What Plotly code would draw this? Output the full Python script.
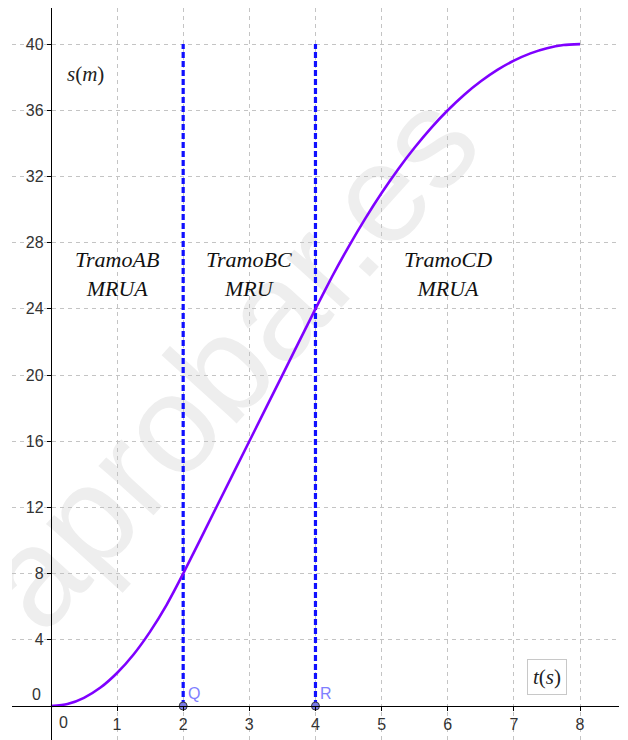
import plotly.graph_objects as go

# ---- data ----
t_vals = [0, 0.25, 0.5, 0.75, 1, 1.25, 1.5, 1.75, 2, 2.5, 3, 3.5, 4,
          4.25, 4.5, 4.75, 5, 5.25, 5.5, 5.75, 6, 6.25, 6.5, 6.75, 7,
          7.25, 7.5, 7.75, 8]
s_vals = [0, 0.12, 0.5, 1.12, 2, 3.12, 4.5, 6.12, 8, 12, 16, 20, 24,
          25.94, 27.75, 29.44, 31, 32.44, 33.75, 34.94, 36, 36.94, 37.75,
          38.44, 39, 39.44, 39.75, 39.94, 40]

bound_t = [2, 4]            # vertical dashed lines
bound_top = 40
point_names = ["Q", "R"]

x_ticks = [1, 2, 3, 4, 5, 6, 7, 8]
y_ticks = [4, 8, 12, 16, 20, 24, 28, 32, 36, 40]

section_x = [1, 3, 6]
section_text = ["<i>TramoAB</i><br><i>MRUA</i>",
                "<i>TramoBC</i><br><i>MRU</i>",
                "<i>TramoCD</i><br><i>MRUA</i>"]

X_RANGE = [-0.588, 8.589]
Y_RANGE = [-2.05, 42.18]

fig = go.Figure()

# vertical dashed boundaries
for bt in bound_t:
    fig.add_trace(go.Scatter(x=[bt, bt], y=[0, bound_top], mode="lines",
                             line=dict(color="#1010ff", width=3.2, dash="6px,3px"),
                             hoverinfo="skip", showlegend=False))

# curve
fig.add_trace(go.Scatter(x=t_vals, y=s_vals, mode="lines",
                         line=dict(color="#7f00ff", width=2.6, shape="spline", smoothing=0.6),
                         showlegend=False))

# points Q, R
fig.add_trace(go.Scatter(x=bound_t, y=[0, 0], mode="markers",
                         marker=dict(size=8, color="#7a7ae6", line=dict(color="#3a3a3a", width=1)),
                         showlegend=False))

serif = "Liberation Serif"
sans = "Liberation Sans"

annotations = []
for xx, tx in zip(section_x, section_text):
    annotations.append(dict(x=xx, y=26.1, text=tx, showarrow=False, xref="x", yref="y",
                            font=dict(family=serif, size=22, color="#111111")))
for bt, nm in zip(bound_t, point_names):
    annotations.append(dict(x=bt, y=0, text=nm, showarrow=False, xref="x", yref="y",
                            xanchor="left", yanchor="bottom", xshift=3, yshift=2,
                            font=dict(family=sans, size=16, color="#7f7fff")))
# axis names
annotations.append(dict(x=0.52, y=38.2, text="<i>s</i>(<i>m</i>)", showarrow=False,
                        font=dict(family=serif, size=21, color="#222222")))
annotations.append(dict(x=7.5, y=1.75, text="<i>t</i>(<i>s</i>)", showarrow=False,
                        font=dict(family=serif, size=21, color="#222222"),
                        bgcolor="white", bordercolor="#c8c8c8", borderwidth=1, borderpad=5))
# zero labels
annotations.append(dict(x=0, y=0, text="0", showarrow=False, xanchor="left", yanchor="top",
                        xshift=6, yshift=-6, font=dict(family=sans, size=16, color="#333333")))
annotations.append(dict(x=0, y=0, text="0", showarrow=False, xanchor="right", yanchor="bottom",
                        xshift=-8, yshift=1, font=dict(family=sans, size=16, color="#333333")))

fig.update_layout(
    width=620, height=732,
    margin=dict(l=4, r=9, t=0, b=0),
    paper_bgcolor="white", plot_bgcolor="white",
    showlegend=False,
    annotations=annotations,
    shapes=[dict(type="line", xref="x", yref="y", x0=-0.71, y0=7.08, x1=5.79, y1=35.78,
                 layer="below", line=dict(color="rgba(0,0,0,0)", width=0),
                 label=dict(text="aprobar.es", textposition="middle", yanchor="middle",
                            font=dict(family="Liberation Sans", size=140, color="#eeeeee")))],
    xaxis=dict(range=X_RANGE, anchor="free", position=34 / 732, domain=[0, 1],
               tickvals=x_ticks, ticks="outside", ticklen=4, tickcolor="black",
               tickfont=dict(family=sans, size=16, color="#333333"),
               showline=True, linecolor="black", linewidth=1.3,
               showgrid=True, gridcolor="#c4c4c4", gridwidth=1, griddash="4px,4px",
               zeroline=False, fixedrange=True),
    yaxis=dict(range=Y_RANGE, anchor="free", position=38.9 / 607, domain=[0, 1],
               tickvals=y_ticks, ticks="outside", ticklen=4, tickcolor="black",
               tickfont=dict(family=sans, size=16, color="#333333"),
               showline=True, linecolor="black", linewidth=1.3,
               showgrid=True, gridcolor="#c4c4c4", gridwidth=1, griddash="4px,4px",
               zeroline=False, fixedrange=True),
)

fig.write_html("out.html")
